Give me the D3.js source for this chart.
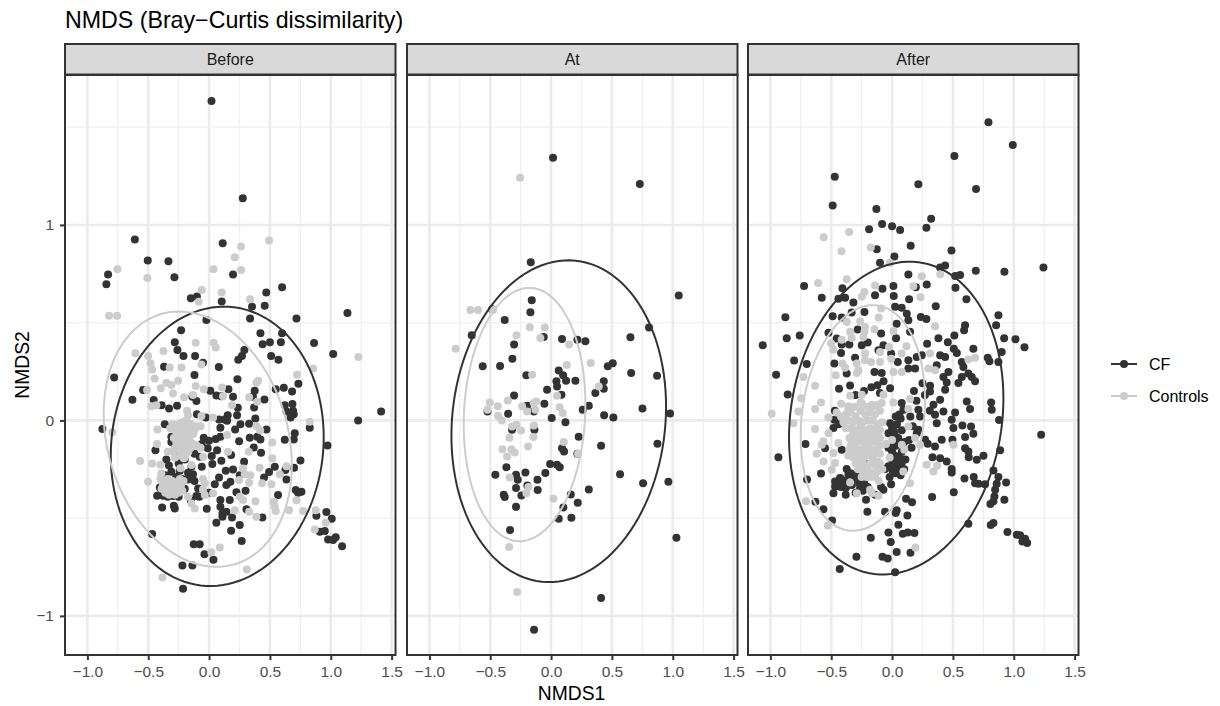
<!DOCTYPE html>
<html>
<head>
<meta charset="utf-8">
<script src="https://cdn.jsdelivr.net/npm/d3@7"></script>
<style>
  html, body { margin: 0; padding: 0; background: #fff; }
  svg { display: block; font-family: "Liberation Sans", Arial, sans-serif; }
</style>
</head>
<body>
<div id="chart"></div>
<script>
const panelNames = ['Before', 'At', 'After']
const seriesNames = ['CF', 'Controls']
const seriesColors = ['#333333', '#cccccc']
const xTicks = [-1, -0.5, 0, 0.5, 1, 1.5]
const xMinorTicks = [-0.75, -0.25, 0.25, 0.75, 1.25]
const yTicks = [-1, 0, 1]
const yMinorTicks = [-0.5, 0.5, 1.5]

const beforeCF = [[.02,1.634],[.277,1.136],[-.61,.925],[.112,.906],[-.504,.818],[-.334,.814],[-.285,.732],[.197,.746],[-.83,.746],[-.844,.696],[.6,.681],[.47,.654],[-.15,.625],[-.1,.634],[.104,.608],[.353,.582],[.457,.587],[-.022,.514],[.337,.522],[.718,.522],[1.137,.55],[-.23,.461],[.422,.446],[.6,.446],[-.282,.4],[.5,.4],[.863,.396],
[-.26,.36],[-.21,.33],[-.115,.33],[.44,.39],[.59,.4],[1.02,.34],[.29,.36],[.27,.33],[.24,.31],[.51,.33],[.57,.31],[-.05,.295],[-.37,.275],[.08,.273],[-.12,.232],[-.78,.22],[.233,.21],[.734,.188],[.548,.16],[.614,.167],[.682,.148],[.375,.152],[-.542,.155],[.159,.16],[.01,.152],[.06,.128],[.1,.124],[.197,.121],[.36,.121],[-.137,.121],[-.63,.106],[-.455,.104],[-.104,.099],[.455,.107],[-.39,.078],[-.263,.075],[-.329,.061],[.37,.066],[.236,.065],[.622,.078],[.685,.084],[.69,.05],[.636,.046],[.696,.032],[.67,.015],[-.1,.032],[.153,.026],[.129,.005],[.082,.005],[-.027,.015],[.23,.027],[.38,.01],[.329,-.017],[.258,-.019],[.214,-.046],[.093,-.038],[.148,-.002],[-.364,-.019],[.471,-.046],[.827,-.038],[.704,-.066],[.696,-.097],[.622,-.099],[.973,-.128],[-.877,-.044],[.334,-.089],[.395,-.084],[.422,-.097],[.247,-.106],[.055,-.095],[.093,-.084],[0,-.104],[-.044,-.089],[-.31,-.084],[-.296,-.109],[.367,-.138],[.427,-.165],[-.441,-.152],[.066,-.152],[-.011,-.143],[.022,-.182],[.181,-.177],[-.077,-.186],[-.351,-.2],[-.268,-.186],[.027,-.223],[.101,-.206],[.288,-.211],[.751,-.205],[.54,-.237],[.493,-.264],[.699,-.242],[.627,-.254],[-.06,-.237],[.137,-.257],[.197,-.251],[-.145,-.237],[-.31,-.263],[-.132,-.275],[-.173,-.268],[-.241,-.257],[.252,-.28],[.082,-.292],[.636,-.302],[.452,-.292],[.175,-.314],[.142,-.331],[.047,-.326],[0,-.37],[-.09,-.348],[-.173,-.302],[-.405,-.343],[-.31,-.34],[.712,-.356],[.759,-.365],[.732,-.37],[.567,-.382],[.225,-.368],[-.427,-.385],[-.378,-.385],[-.296,-.387],[-.104,-.387],[.093,-.407],[.17,-.407],[.3,-.36],[-.386,-.445],[-.29,-.436],[-.282,-.45],[-.019,-.452],[.093,-.442],[.11,-.476],[.142,-.467],[.11,-.493],[.189,-.496],[.307,-.455],[.438,-.496],[.06,-.523],[.252,-.535],[.181,-.564],[.268,-.617],[.882,-.488],[.964,-.469],[1.008,-.503],[.91,-.57],[.951,-.566],[.978,-.609],[1.019,-.612],[1.041,-.598],[1.093,-.644],[-.468,-.581],[-.126,-.633],[-.077,-.634],[-.038,-.685],[.036,-.713],[-.219,-.742],[-.137,-.742],[-.214,-.861],[1.225,0],[1.414,.046],
[-.31,-.11],[-.28,-.14],[-.33,-.23],[-.25,-.22],[-.2,-.2],[-.12,-.17],[-.06,-.12],[-.16,-.11],[-.36,-.28],[-.27,-.29],[-.22,-.3],[-.12,-.31],[-.39,-.36],[-.34,-.39],[-.25,-.39],[-.2,-.35],[-.08,-.39],[-.15,-.41]]

const beforeControls = [[.493,.92],[.263,.89],[.211,.835],[.036,.773],[.263,.77],[-.753,.773],[-.507,.728],[-.06,.667],[.104,.654],[.337,.62],[-.085,.607],[-.822,.535],[-.756,.535],[1.227,.324],[-.605,.343],[-.501,.329],[-.375,.355],[-.482,.292],[-.11,.397],[.038,.397],[.055,.373],[-.063,.286],[-.323,.271],[-.227,.271],[-.468,.261],[.855,.266],[.723,.234],[-.447,.215],[-.255,.203],[.403,.203],[.389,.193],[-.351,.193],[-.31,.181],[-.397,.164],[-.11,.176],[.107,.169],[-.51,.155],[-.296,.138],[-.044,.159],[-.205,.118],[-.132,.13],[.115,.124],[.329,.118],[.395,.095],[-.474,.073],[-.433,.077],[.189,.078],[-.181,.049],[-.173,.027],[.827,-.007],[-.063,.022],[.033,.015],[-.795,-.061],[-.425,-.046],
[-.32,-.04],[-.28,-.03],[-.25,-.02],[-.22,-.01],[-.19,0],[-.17,-.03],[-.14,-.04],[-.1,-.03],[-.07,-.03],[-.26,-.06],[-.23,-.05],[-.2,-.05],[-.16,-.06],[-.13,-.07],[-.29,-.09],[-.25,-.09],[-.22,-.08],[-.19,-.09],[-.16,-.1],[-.13,-.12],[-.1,-.13],[-.22,-.12],[-.25,-.13],[-.19,-.13],[-.07,-.14],[-.3,-.16],[-.34,-.16],[-.28,-.19],[-.24,-.18],[-.2,-.19],[-.15,-.14],
[.39,-.03],[.42,-.05],[.148,-.075],[.52,-.113],[-.427,-.12],[.156,-.16],[.326,-.16],[.52,-.194],[-.567,-.208],[-.468,-.22],[-.4,-.227],[-.208,-.194],[-.145,-.228],[-.236,-.245],[-.049,-.186],[.416,-.242],[.636,-.234],[.279,-.246],[.293,-.276],[.34,-.28],[.581,-.276],[-.392,-.271],[-.501,-.314],[.329,-.319],[.436,-.322],[.512,-.327],[.247,-.305],
[-.4,-.3],[-.37,-.31],[-.34,-.3],[-.31,-.32],[-.38,-.33],[-.35,-.35],[-.32,-.35],[-.29,-.34],[-.26,-.35],[-.36,-.37],[-.33,-.38],[-.29,-.37],[-.25,-.37],[-.23,-.33],[-.21,-.31],[-.24,-.3],
[-.05,-.3],[-.035,-.322],[-.05,-.353],[-.035,-.382],[.033,-.373],[-.173,-.39],[.252,-.39],[.28,-.407],[.381,-.413],[.718,-.408],[.532,-.416],[.54,-.442],[-.145,-.425],[-.118,-.45],[.211,-.459],[.329,-.467],[.548,-.464],[.658,-.459],[.773,-.464],[.877,-.459],[.389,-.493],[.959,-.523],[.868,-.558],[.088,-.65],[.019,-.675],[.31,-.762],[-.384,-.803],
[-.3,-.02],[-.27,-.06],[-.24,-.04],[-.21,-.03],[-.18,-.07],[-.15,-.02],[-.12,-.05],[-.27,-.11],[-.23,-.1],[-.17,-.12],[-.28,-.14],[-.24,-.15],[-.21,-.16],[-.17,-.16],[-.39,-.35],[-.33,-.33],[-.3,-.31],[-.27,-.32],[-.28,-.38],[-.22,-.36]]

const atCF = [[.016,1.344],[.729,1.21],[-.167,.809],[1.049,.639],[-.159,.615],[-.17,.553],[-.485,.569],[-.381,.514],[.805,.475],[-.652,.436],[-.06,.427],[.09,.417],[.216,.413],[.282,.405],[.652,.425],[-.304,.388],[-.318,.316],[-.562,.277],[-.419,.279],[-.203,.231],[.507,.292],[.466,.277],[.658,.243],[.871,.228],[.063,.255],[.099,.231],
[.044,.2],[.123,.203],[.2,.203],[.433,.2],[.049,.174],[.433,.162],[-.033,.157],[.364,.14],[.085,.131],[-.304,.128],[-.055,.085],[.31,.075],[.26,.055],[.751,.061],[.978,.036],[-.142,.046],[-.197,.075],[-.523,.046],[-.353,.034],[.436,.026],[.512,.015],[.005,.012],[.118,-.009],[-.321,-.048],[-.137,-.048],[.227,-.084],[.874,-.119],[.411,-.13],[.09,-.142],[.107,-.159],[.216,-.171],[-.008,-.223],[.049,-.227],[.071,-.239],[-.367,-.239],[-.047,-.269],[-.211,-.266],[-.458,-.278],[.567,-.275],[-.288,-.278],[-.274,-.304],[-.112,-.304],[.756,-.321],[.964,-.314],[-.195,-.333],[-.288,-.346],[-.11,-.356],[.31,-.353],[-.389,-.38],[-.381,-.392],[-.244,-.384],[.162,-.379],[.219,-.421],[-.288,-.442],[.101,-.445],[.063,-.503],[.167,-.498],[-.337,-.561],[1.03,-.6],[.411,-.909],[-.14,-1.071]]

const atControls = [[-.255,1.242],[-.663,.565],[-.6,.565],[-.477,.565],[-.784,.366],[-.175,.477],[-.052,.475],[-.285,.436],[-.088,.422],[.148,.388],[.129,.284],[.326,.294],[-.156,.233],
[.392,.174],[.049,.126],[-.504,.092],[-.356,.102],[-.438,.072],[-.523,.055],[-.238,.072],[-.121,.097],[-.142,.089],[-.197,.046],[-.129,.055],[.071,.068],[.096,.038],[-.436,.024],[-.405,0],[-.321,-.031],[-.285,-.022],[-.247,-.051],[-.142,-.026],[-.342,-.089],[-.145,-.085],[.104,-.111],[-.189,-.133],[-.4,-.148],[-.326,-.147],[-.299,-.164],[-.362,-.184],[.222,-.171],[-.34,-.292],[-.186,-.341],[-.203,-.372],[.019,-.401],[-.345,-.648],[-.279,-.878]]

const afterCF = [[.792,1.525],[.992,1.409],[.512,1.353],[-.471,1.247],[.216,1.208],[.69,1.184],[-.488,1.099],[-.129,1.082],[.321,1.032],[-.082,1.005],[0,.993],[.066,.974],[.282,.986],[-.189,.978],[.153,.894],[-.126,.876],[.488,.869],[.019,.838],[-.099,.806],[.436,.792],[.395,.782],[1.244,.782],[.688,.765],[.923,.761],[.559,.744],[.518,.739],[.134,.746],[-.723,.688],[.285,.695],[.195,.681],[.011,.688],[-.079,.674],[-.408,.676],[.521,.679],[-.578,.628],[-.441,.623],[-.386,.628],[-.14,.64],[.014,.637],[.14,.62],[.611,.62],[-.318,.603],[.359,.584],[.025,.582],[.079,.577],[-.227,.555],[-.332,.552],[.121,.546],[.874,.538],[-.877,.528],[-.488,.533],[-.414,.526],[.236,.529],[.282,.519],[.134,.512],[.038,.495],[.855,.487],[.6,.487],[.592,.461],[-.282,.465],[-.523,.449],[.148,.453],[-.09,.444],[.512,.434],[-.759,.434],[-.866,.42],[-.455,.419],[.033,.42],[.381,.42],[.921,.42],[1.014,.415],[-1.063,.384],[.458,.4],[1.088,.374],[.288,.392],[-.414,.388],[-.351,.388],[-.249,.384],[-.2,.398],[.668,.366],[.507,.366],[.532,.345],[.901,.35],[-.419,.345],[.244,.333],[-.071,.384],[-.112,.359],[-.008,.342],[.395,.333],[.436,.325],[-.304,.321],[.203,.325],[.786,.32],[-.805,.306],[-.701,.289],[.573,.299],[-.474,.291],[.134,.308],[.047,.299],[.8,.303],[.874,.299],[.586,.273],[.367,.282],[.189,.265],[-.953,.234],[-.373,.24],[-.145,.248],[-.085,.243],[.134,.265],[.463,.248],[.627,.24],[.573,.222],[.422,.222],[.655,.222],
[-.436,.162],[-.345,.179],[-.016,.165],[.312,.177],[.312,.148],[.436,.157],[-.858,.133],[.449,.194],[.545,.191],[.682,.2],[.614,.097],[.641,.058],[.814,.092],[.819,.055],[.395,.106],[.34,.08],[.216,.055],[.422,.046],[.518,.041],[.079,.089],[.093,.055],[.23,.02],[.353,.029],[.49,.003],[.879,.002],[-.474,.003],[-.016,-.014],[.367,-.014],[.011,-.048],[.216,-.048],[.504,-.039],[.578,-.026],[.649,-.031],[.668,-.068],[-.482,-.039],[1.225,-.073],[.6,-.085],[.203,-.065],[.025,-.082],[-.03,-.065],[-.249,-.099],[.271,-.099],[.408,-.099],[.496,-.099],[-.712,-.121],[.353,-.133],[.293,-.119],[.6,-.142],[.888,-.153],[.627,-.159],[-.551,-.142],[-.414,-.15],[.011,-.124],[0,-.159],[.052,-.184],[-.934,-.188],[.751,-.181],[.696,-.201],[.63,-.188],[.332,-.188],[.395,-.193],[.449,-.21],[.011,-.21],[.079,-.218],[.49,-.249],[.49,-.266],[-.03,-.235],[.833,-.256],[0,-.252],[.052,-.244],[-.584,-.271],[-.373,-.249],[-.359,-.278],[-.427,-.295],[.595,-.297],[.671,-.29],[.874,-.29],[-.699,-.302],[-.468,-.312],[-.263,-.286],[.682,-.321],[.764,-.326],[.71,-.324],[.937,-.317],[.86,-.324],[-.249,-.321],[-.008,-.326],[-.468,-.338],[-.381,-.346],[-.263,-.346],[.847,-.355],[-.482,-.372],[-.381,-.38],[.507,-.367],[-.071,-.355],[.841,-.389],[.329,-.392],[.923,-.406],[.115,-.401],[-.214,-.406],[.164,-.418],[.833,-.414],[.808,-.428],[-.63,-.416],[-.564,-.454],[-.203,-.467],[-.058,-.467],[.038,-.46],[.03,-.474],[.126,-.486],[-.493,-.512],[.627,-.529],[.833,-.525],[.811,-.535],[.052,-.534],[-.03,-.573],[-.011,-.622],[.088,-.58],[.129,-.573],[.184,-.576],[-.175,-.6],[.948,-.571],[1.025,-.585],[1.052,-.588],[1.093,-.605],[1.071,-.619],[1.11,-.627],[.038,-.673],[.151,-.677],[-.293,-.697],[-.079,-.697],[-.036,-.706],[-.43,-.76],[.025,-.777],
[.03,.02],[.07,.01],[.04,-.02],[.08,-.05],[.05,-.09],[.1,-.11],[.03,-.13],[.08,-.16],[.02,-.18],[.11,-.2],[.06,-.23],[.1,-.25],[.03,-.27],[-.02,-.29],[.07,-.28],[-.03,-.14],[-.06,-.25],[-.31,-.3],[-.33,-.33],[-.42,-.34],[-.3,-.37],[-.24,-.36],[-.2,-.34],[-.14,-.38],[-.09,-.34],[-.44,-.31],[-.39,-.31],[-.34,-.27],[-.28,-.27],[-.3,.13],[-.23,.15],[-.17,.17],[-.1,.14],[-.07,.2],[-.12,.18],[.18,.15],[.2,.1],[.27,.13],[.25,.19],[.31,.05],[.15,.02],[.17,-.03],[-.17,-.1],[-.28,-.16],[-.22,-.22],[.14,-.1],[.16,-.14],
[0,-.04],[.06,.03],[.02,-.06],[.06,-.12],[.09,-.2],[.04,-.22],[0,-.2],[.08,-.26],[.03,-.24],[-.42,-.3],[-.36,-.33],[-.27,-.32],[-.23,-.32],[-.47,.05],[-.44,-.02]]

const afterControls = [[-.562,.937],[-.353,.964],[-.416,.865],[-.175,.884],[-.019,.806],[.395,.748],[.244,.737],[-.608,.703],[-.373,.722],[-.14,.69],[.175,.686],[-.227,.657],[-.249,.632],[.233,.63],[-.09,.572],[-.11,.526],[-.263,.507],[-.373,.504],[.353,.482],[-.222,.478],[-.145,.466],[-.345,.453],[.011,.458],[-.227,.453],[-.332,.422],[-.501,.393],[-.236,.427],[-.414,.413],[-.482,.362],[-.025,.376],[.118,.379],[-.099,.35],[-.222,.342],[.079,.342],[.312,.342],[.682,.32],[.627,.311],[-.222,.308],[-.173,.299],[-.099,.299],[-.008,.316],[-.408,.291],[-.29,.291],[-.386,.27],[-.277,.257],[.011,.248],[.079,.248],[.299,.265],[.353,.257],[-.729,.222],[-.463,.231],[-.29,.243],
[-.633,.177],[-.748,.114],[-.345,.126],[-.249,.131],[-.584,.092],[-.633,.058],[-.77,.046],[-.989,.034],[-.811,-.014],[-.419,.085],[-.359,.072],[-.249,.089],[-.167,.08],[-.071,.131],[.011,.092],[-.085,.089],[.148,.109],[.134,.058],[-.523,.015],[-.455,.041],
[-.42,.02],[-.38,.03],[-.34,.04],[-.3,.02],[-.26,.05],[-.22,.03],[-.18,.04],[-.14,.03],[-.1,.05],[-.4,-.01],[-.36,0],[-.32,-.01],[-.28,0],[-.24,-.01],[-.2,0],[-.16,0],[-.12,-.02],[-.08,-.01],[-.38,-.04],[-.34,-.04],[-.3,-.05],[-.26,-.03],[-.22,-.05],[-.18,-.04],[-.14,-.05],[-.1,-.05],[-.35,-.09],[-.3,-.08],[-.25,-.09],[-.2,-.1],[-.15,-.08],[-.1,-.09],
[-.633,-.044],[-.523,-.065],[-.564,-.107],[-.578,-.124],[-.619,-.171],[-.564,-.21],[-.482,-.167],[-.496,-.252],[-.468,-.218],[-.441,-.116],
[-.34,-.13],[-.3,-.14],[-.26,-.15],[-.22,-.13],[-.18,-.14],[-.14,-.15],[-.1,-.13],[-.05,-.12],[0,-.1],[.08,-.125],[.1,-.15],[-.36,-.18],[-.32,-.19],[-.28,-.2],[-.24,-.2],[-.2,-.18],[-.16,-.19],[-.12,-.21],[-.02,-.19],[-.28,-.25],[-.24,-.26],[-.2,-.25],[-.16,-.27],[-.12,-.26],[-.08,-.25],[-.18,-.29],
[.093,-.261],[.285,-.227],[.37,-.232],[.34,-.261],[.189,-.09],[.134,-.031],[.23,-.124],[.504,-.124],[.148,-.321],[-.345,-.317],[-.29,-.372],[-.181,-.355],[-.112,-.385],[-.167,-.372],[-.707,-.413],[-.529,-.539],[.192,-.65],
[-.36,.06],[-.31,.07],[-.26,.09],[-.21,.07],[-.16,.07],[-.12,.08],[-.32,-.07],[-.27,-.07],[-.22,-.07],[-.17,-.07],[-.12,-.07],[-.33,-.11],[-.28,-.11],[-.23,-.11],[-.18,-.11],[-.13,-.11],[-.35,-.15],[-.3,-.17],[-.25,-.17],[-.2,-.16],[-.15,-.17],[-.1,-.17],[-.3,-.22],[-.26,-.23],[-.22,-.23],[-.18,-.22],[-.14,-.23],[-.1,-.22],[-.25,-.29],[-.21,-.29],[-.14,-.29],[-.11,-.31]]

const panelPoints = [
  [beforeCF, beforeControls],
  [atCF, atControls],
  [afterCF, afterControls]
]

// ellipse, one entry per panel: centre, half extents, tilt
const ellipseCx = [[.067, -.093], [.063, -.218], [.034, -.24]]
const ellipseCy = [[-.1325, -.096], [-.004, .03], [.012, .0125]]
const ellipseRx = [[.875, .773], [.882, .5], [.881, .511]]
const ellipseRy = [[.7145, .653], [.823, .648], [.8, .577]]
const ellipseRho = [[.065, -.2], [.09, .08], [.125, .16]]

const panelLeft = [65, 407, 748]
const panelWidth = 330.5
const panelTop = 75
const panelHeight = 580
const stripTop = 44
const stripHeight = 30.5

const svg = d3.select('#chart').append('svg')
  .attr('width', 1220)
  .attr('height', 706)

const xScale = d3.scaleLinear().domain([-1.184, 1.532]).range([0, panelWidth])
const yScale = d3.scaleLinear().domain([-1.2, 1.767]).range([panelHeight, 0])

/**
 * Builds the outline of one ellipse from its read values.
 *
 * @param {number} p The panel index
 * @param {number} s The series index
 * @returns {Array} The outline in data units
 */
function ellipsePoints (p, s) {
  const phi = Math.asin(ellipseRho[p][s])
  return d3.range(0, 2 * Math.PI, Math.PI / 60).map(t => [
    ellipseCx[p][s] + ellipseRx[p][s] * Math.cos(t),
    ellipseCy[p][s] + ellipseRy[p][s] * Math.sin(t + phi)
  ])
}

const ellipseLine = d3.line()
  .x(d => xScale(d[0]))
  .y(d => yScale(d[1]))
  .curve(d3.curveLinearClosed)

panelNames.forEach((name, p) => {
  const g = svg.append('g')
    .attr('transform', 'translate(' + panelLeft[p] + ',' + panelTop + ')')

  // minor grid first, then major
  g.selectAll('.x-minor').data(xMinorTicks).join('line')
    .attr('x1', d => xScale(d)).attr('x2', d => xScale(d))
    .attr('y1', 0).attr('y2', panelHeight)
    .attr('stroke', '#f0f0f0').attr('stroke-width', 1.3)
  g.selectAll('.y-minor').data(yMinorTicks).join('line')
    .attr('y1', d => yScale(d)).attr('y2', d => yScale(d))
    .attr('x1', 0).attr('x2', panelWidth)
    .attr('stroke', '#f0f0f0').attr('stroke-width', 1.3)
  g.selectAll('.x-major').data(xTicks).join('line')
    .attr('x1', d => xScale(d)).attr('x2', d => xScale(d))
    .attr('y1', 0).attr('y2', panelHeight)
    .attr('stroke', '#ebebeb').attr('stroke-width', 2.6)
  g.selectAll('.y-major').data(yTicks).join('line')
    .attr('y1', d => yScale(d)).attr('y2', d => yScale(d))
    .attr('x1', 0).attr('x2', panelWidth)
    .attr('stroke', '#ebebeb').attr('stroke-width', 2.6)

  seriesNames.forEach((series, s) => {
    g.append('g').selectAll('circle')
      .data(panelPoints[p][s]).join('circle')
      .attr('cx', d => xScale(d[0]))
      .attr('cy', d => yScale(d[1]))
      .attr('r', 4)
      .attr('fill', seriesColors[s])
  })

  seriesNames.forEach((series, s) => {
    g.append('path')
      .attr('d', ellipseLine(ellipsePoints(p, s)))
      .attr('fill', 'none')
      .attr('stroke', seriesColors[s])
      .attr('stroke-width', 2)
  })

  // panel border
  g.append('rect')
    .attr('width', panelWidth).attr('height', panelHeight)
    .attr('fill', 'none').attr('stroke', '#333333').attr('stroke-width', 2)

  // strip
  const strip = svg.append('g')
    .attr('transform', 'translate(' + panelLeft[p] + ',' + stripTop + ')')
  strip.append('rect')
    .attr('width', panelWidth).attr('height', stripHeight)
    .attr('fill', '#d9d9d9').attr('stroke', '#333333').attr('stroke-width', 2)
  strip.append('text')
    .text(name)
    .attr('x', panelWidth / 2).attr('y', 21)
    .attr('text-anchor', 'middle')
    .attr('font-size', 16).attr('fill', '#1a1a1a')

  // x axis
  const xAxis = g.append('g')
    .attr('transform', 'translate(0,' + panelHeight + ')')
    .call(d3.axisBottom(xScale).tickValues(xTicks).tickFormat(d3.format('.1f'))
      .tickSizeOuter(0).tickSizeInner(5).tickPadding(6))
  xAxis.select('.domain').remove()
  xAxis.selectAll('line').attr('stroke', '#333333').attr('stroke-width', 2)
  xAxis.selectAll('text')
    .attr('font-size', 15.5).attr('fill', '#4d4d4d').attr('font-family', 'inherit')

  if (p === 0) {
    const yAxis = g.append('g')
      .call(d3.axisLeft(yScale).tickValues(yTicks).tickFormat(d3.format('d'))
        .tickSizeOuter(0).tickSizeInner(5).tickPadding(6))
    yAxis.select('.domain').remove()
    yAxis.selectAll('line').attr('stroke', '#333333').attr('stroke-width', 2)
    yAxis.selectAll('text')
      .attr('font-size', 15.5).attr('fill', '#4d4d4d').attr('font-family', 'inherit')
  }
})

svg.append('text')
  .text('NMDS (Bray\u2212Curtis dissimilarity)')
  .attr('x', 65).attr('y', 28)
  .attr('font-size', 23.2).attr('fill', '#000')

svg.append('text')
  .text('NMDS1')
  .attr('x', 571.5).attr('y', 700)
  .attr('text-anchor', 'middle')
  .attr('font-size', 19.3).attr('fill', '#000')

svg.append('text')
  .text('NMDS2')
  .attr('transform', 'translate(29,365) rotate(-90)')
  .attr('text-anchor', 'middle')
  .attr('font-size', 19.3).attr('fill', '#000')

// legend
const legend = svg.append('g')
seriesNames.forEach((series, s) => {
  const y = 364 + s * 32
  legend.append('line')
    .attr('x1', 1111).attr('x2', 1137).attr('y1', y).attr('y2', y)
    .attr('stroke', seriesColors[s]).attr('stroke-width', 2)
  legend.append('circle')
    .attr('cx', 1124).attr('cy', y).attr('r', 4)
    .attr('fill', seriesColors[s])
  legend.append('text')
    .text(series)
    .attr('x', 1149).attr('y', y + 5.5)
    .attr('font-size', 16).attr('fill', '#000')
})
</script>
</body>
</html>
